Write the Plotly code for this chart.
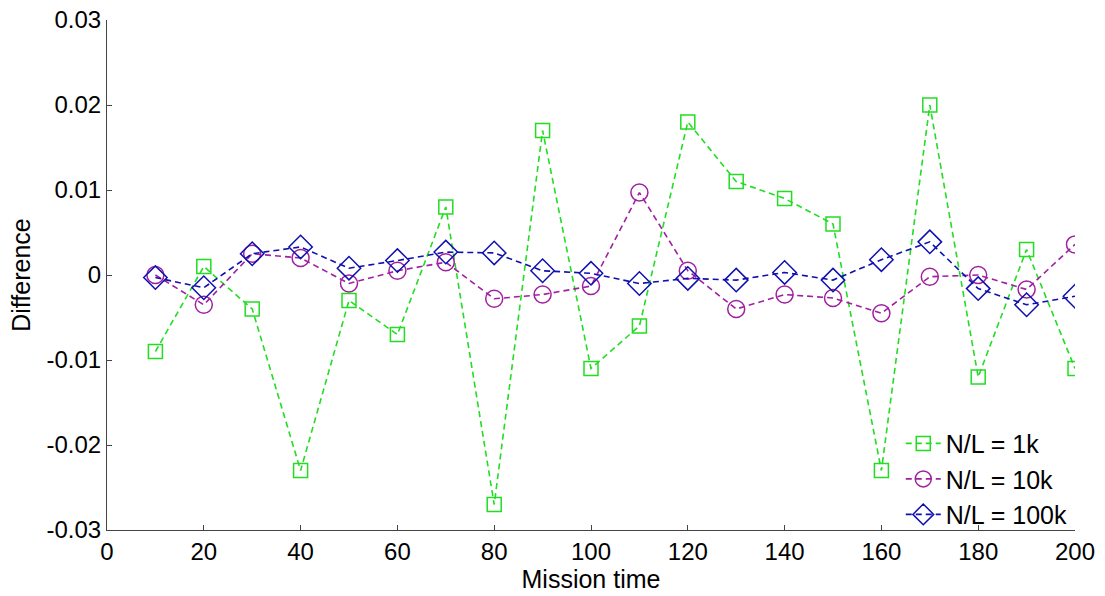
import plotly.graph_objects as go

mission_time = [10, 20, 30, 40, 50, 60, 70, 80, 90, 100, 110, 120, 130, 140, 150, 160, 170, 180, 190, 200]
diff_1k = [-0.009, 0.001, -0.004, -0.023, -0.003, -0.007, 0.008, -0.027, 0.017, -0.011,
           -0.006, 0.018, 0.011, 0.009, 0.006, -0.023, 0.020, -0.012, 0.003, -0.011]
diff_10k = [0.0, -0.0035, 0.0025, 0.002, -0.001, 0.0005, 0.0015, -0.0028, -0.0023, -0.0013,
            0.0097, 0.0005, -0.004, -0.0023, -0.0027, -0.0045, -0.0002, 0.0, -0.0017, 0.0036]
diff_100k = [-0.0003, -0.0015, 0.0025, 0.0033, 0.0008, 0.0017, 0.0027, 0.0026, 0.0005, 0.0002,
             -0.001, -0.0004, -0.0006, 0.0003, -0.0006, 0.0018, 0.0039, -0.0016, -0.0035, -0.0025]

series_names = ["N/L = 1k", "N/L = 10k", "N/L = 100k"]
series_colors = ["#22dd22", "#a020a0", "#1010b0"]
series_symbols = ["square-open", "circle-open", "diamond-open"]
series_sizes = [14, 17, 18]

y_ticks = [0.03, 0.02, 0.01, 0, -0.01, -0.02, -0.03]
y_ticktext = ["0.03", "0.02", "0.01", "0", "-0.01", "-0.02", "-0.03"]
x_ticks = [0, 20, 40, 60, 80, 100, 120, 140, 160, 180, 200]

fig = go.Figure()
for name, ys, col, sym, sz in zip(series_names, [diff_1k, diff_10k, diff_100k],
                                  series_colors, series_symbols, series_sizes):
    fig.add_trace(go.Scatter(
        x=mission_time, y=ys, name=name, mode="lines+markers",
        line=dict(color=col, width=1.6, dash="6px,4px"),
        marker=dict(symbol=sym, size=sz, color=col, line=dict(width=1.5, color=col)),
    ))

fam = "Liberation Sans, Arial, sans-serif"
tick_font = dict(family=fam, size=24, color="#000")
title_font = dict(family=fam, size=25, color="#000")
fig.update_layout(
    width=1105, height=596,
    margin=dict(l=107, r=30, t=20, b=66),
    paper_bgcolor="white", plot_bgcolor="white",
    font=dict(family=fam, size=24, color="#000"),
    xaxis=dict(range=[0, 200], tickvals=x_ticks, ticks="inside", ticklen=5,
               tickcolor="#444", showline=True, linecolor="#444", linewidth=1,
               showgrid=False, zeroline=False, tickfont=tick_font, automargin=False,
               title=dict(text="Mission time", font=title_font, standoff=0)),
    yaxis=dict(range=[-0.03, 0.03], tickvals=y_ticks, ticktext=y_ticktext,
               ticks="inside", ticklen=5, tickcolor="#444", showline=True,
               linecolor="#444", linewidth=1, showgrid=False, zeroline=False,
               tickfont=tick_font, automargin=False,
               title=dict(text="Difference", font=title_font, standoff=8)),
    legend=dict(x=0.82, y=-0.015, xanchor="left", yanchor="bottom",
                bgcolor="rgba(255,255,255,0)", font=dict(family=fam, size=25, color="#000"),
                itemwidth=35, tracegroupgap=0),
    showlegend=True,
)

fig.write_html("out.html")
